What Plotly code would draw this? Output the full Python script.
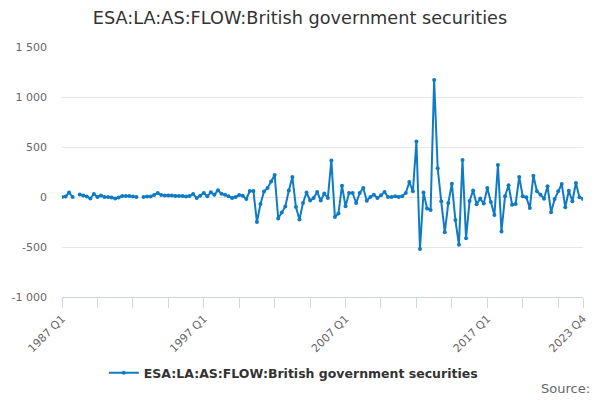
import plotly.graph_objects as go

LINE_BLUE = "#0f7bc4"
FONT = "DejaVu Sans"

# quarters 1987 Q1 .. 2023 Q4
quarters = [f"{y} Q{q}" for y in range(1987, 2024) for q in range(1, 5)]

# flow values (None = missing quarter)
values = [
    0, 5, 45, 0, None, 25, 15, 5, -15, 30,
    0, 15, 0, 0, -5, -15, -5, 10, 10, 10,
    5, 0, None, 0, 5, 5, 20, 40, 20, 15,
    15, 15, 10, 10, 10, 5, 10, 30, -10, 13,
    40, 7, 47, 23, 67, 33, 23, 7, -10, 0,
    20, 13, -20, 60, 60, -250, -70, 55, 90, 155,
    220, -215, -155, -95, 65, 200, -100, -225, -60, 45,
    -35, -10, 50, -35, 35, -10, 365, -200, -165, 113,
    -93, 40, 40, -60, 40, 90, -37, 0, 23, -10,
    17, 50, 0, 0, 7, 0, 7, 40, 150, 57,
    555, -520, 45, -115, -130, 1170, 287, -43, -353, -59,
    132, -231, -478, 369, -412, -40, 66, -72, -16, -66,
    89, -49, -181, 320, -345, 7, 117, -77, -70, 200,
    7, -3, -110, 213, 57, 23, -17, 107, -153, -20,
    57, 130, -103, 63, -43, 140, -3, -20,
]

series_name = "ESA:LA:AS:FLOW:British government securities"

# x ticks every 10 quarters plus the last one; labels on a subset
tick_idx = list(range(0, 148, 10)) + [147]
label_idx = {0, 40, 80, 120, 147}
x_tickvals = [quarters[i] for i in tick_idx]
x_ticktext = [quarters[i] if i in label_idx else "" for i in tick_idx]

y_tickvals = [-1000, -500, 0, 500, 1000, 1500]
y_ticktext = ["-1 000", "-500", "0", "500", "1 000", "1 500"]

fig = go.Figure()
fig.add_trace(go.Scatter(
    x=quarters, y=values, mode="lines+markers", name=series_name,
    line=dict(color=LINE_BLUE, width=2), marker=dict(size=4, color=LINE_BLUE),
    connectgaps=False))

fig.update_layout(
    width=600, height=400,
    paper_bgcolor="white", plot_bgcolor="white",
    margin=dict(l=62, r=17, t=47, b=103),
    font=dict(family=FONT, color="#666666", size=11),
    title=dict(text=series_name, x=0.5, xanchor="center", y=0.955, yanchor="middle",
               font=dict(family=FONT, size=17.7, color="#333333")),
    showlegend=True,
    legend=dict(orientation="h", x=0.444, xanchor="center", y=-0.304, yanchor="middle",
                font=dict(family=FONT, size=12.5, color="#333333", weight="bold")),
    annotations=[dict(text="Source:", xref="paper", yref="paper", x=1.018, y=-0.368,
                      xanchor="right", yanchor="middle", showarrow=False,
                      font=dict(family=FONT, size=13, color="#666666"))],
)
fig.update_xaxes(
    type="category", range=[0, 147], tickmode="array",
    tickvals=x_tickvals, ticktext=x_ticktext, tickangle=-45,
    showgrid=False, showline=True, linecolor="#ccd6eb", linewidth=1,
    ticks="outside", ticklen=10, tickcolor="#ccd6eb", zeroline=False,
    tickfont=dict(size=11, color="#666666"))
fig.update_yaxes(
    range=[-1000, 1500], tickmode="array", tickvals=y_tickvals, ticktext=y_ticktext,
    showgrid=True, gridcolor="#e6e6e6", gridwidth=1, zeroline=False,
    showline=False, ticks="", ticklabelstandoff=14,
    tickfont=dict(size=11, color="#666666"))

# drop the browser's default body margin so the figure sits at the window corner
fig.write_html("out.html", config={"displayModeBar": False},
               post_script="document.body.style.margin='0';")
